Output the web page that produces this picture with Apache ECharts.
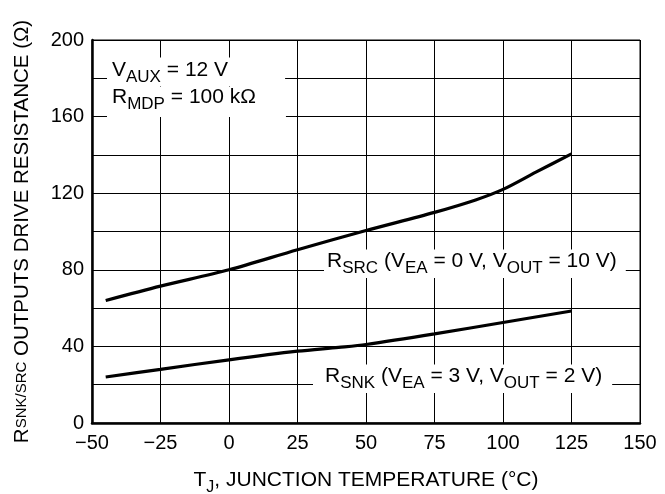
<!DOCTYPE html>
<html><head><meta charset="utf-8">
<script src="https://cdn.jsdelivr.net/npm/echarts@6/dist/echarts.min.js"></script>
<style>html,body{margin:0;padding:0;background:#fff}#c{width:665px;height:494px}</style>
</head><body><div id="c"></div>
<script>
// Data
const srcTemp = [-45, -25, 0, 25, 50, 75, 90, 100, 112, 125];
const srcRes  = [64, 71.5, 80, 90.5, 100.5, 110, 116.5, 122, 131, 140.5];
const snkTemp = [-45, -25, 0, 25, 40, 50, 75, 100, 125];
const snkRes  = [24, 28, 33, 37.5, 39.5, 41, 46.5, 52.5, 58.5];
const xTicks = [-50, -25, 0, 25, 50, 75, 100, 125, 150];
const yTicks = [0, 40, 80, 120, 160, 200];

const FF = '"Liberation Sans", Arial, Helvetica, sans-serif';
const rich = {
  n: {fontFamily: FF, fontSize: 21, fontWeight: 'normal', color: '#000', lineHeight: 32},
  s: {fontFamily: FF, fontSize: 17, fontWeight: 'normal', color: '#000', verticalAlign: 'bottom'}
};
const ts = {rich: rich, fontFamily: FF, fontWeight: 'normal'};

const chart = echarts.init(document.getElementById('c'), null, {renderer: 'canvas'});
chart.setOption({
  animation: false,
  backgroundColor: '#fff',
  grid: {left: 92, right: 25, top: 40, bottom: 71, show: true, borderColor: '#000', borderWidth: 1,
         containLabel: false, outerBoundsMode: 'none'},
  title: [
    {left: 107, top: 52, padding: [2, 57, 0, 5], backgroundColor: '#fff', z: 7,
     text: '{n|V}{s|AUX}{n| = 12 V}', textStyle: ts},
    {left: 107, top: 81, padding: [0, 30, 4, 5], backgroundColor: '#fff', z: 6,
     text: '{n|R}{s|MDP}{n| = 100 kΩ}', textStyle: ts},
    {left: 324, top: 244, padding: [1, 9, 1, 3], backgroundColor: '#fff', z: 6,
     text: '{n|R}{s|SRC}{n| (V}{s|EA}{n| = 0 V, V}{s|OUT}{n| = 10 V)}', textStyle: ts},
    {left: 313, top: 359, padding: [1, 10, 1, 12], backgroundColor: '#fff', z: 6,
     text: '{n|R}{s|SNK}{n| (V}{s|EA}{n| = 3 V, V}{s|OUT}{n| = 2 V)}', textStyle: ts}
  ],
  xAxis: {
    type: 'value', min: xTicks[0], max: xTicks[xTicks.length - 1], interval: 25,
    axisLine: {show: true, onZero: false, lineStyle: {color: '#000', width: 2.5}},
    axisTick: {show: false},
    splitLine: {show: true, lineStyle: {color: '#000', width: 1}},
    axisLabel: {color: '#000', fontFamily: FF, fontSize: 20, margin: 10,
      formatter: v => xTicks.includes(v) ? String(v).replace('-', '\u2212') : ''},
    name: '{n|T}{s|J}{n|, JUNCTION TEMPERATURE (°C)}',
    nameLocation: 'middle', nameGap: 41,
    nameTextStyle: {rich: {
      n: {fontFamily: FF, fontSize: 21, color: '#000', lineHeight: 32},
      s: {fontFamily: FF, fontSize: 16, color: '#000', verticalAlign: 'bottom'}
    }}
  },
  yAxis: {
    type: 'value', min: 0, max: 200, interval: 20,
    axisLine: {show: true, onZero: false, lineStyle: {color: '#000', width: 2.5}},
    axisTick: {show: false},
    splitLine: {show: true, lineStyle: {color: '#000', width: 1}},
    axisLabel: {color: '#000', fontFamily: FF, fontSize: 20, margin: 8,
      formatter: v => yTicks.includes(v) ? String(v) : ''},
    name: '{n|R}{s|SNK/SRC}{n| OUTPUTS DRIVE RESISTANCE (Ω)}',
    nameLocation: 'middle', nameGap: 58, nameRotate: 90,
    nameTextStyle: {rich: {
      n: {fontFamily: FF, fontSize: 20.5, color: '#000', lineHeight: 24},
      s: {fontFamily: FF, fontSize: 15, color: '#000', lineHeight: 17, verticalAlign: 'middle'}
    }}
  },
  series: [
    {type: 'line', z: 10, data: srcTemp.map((t, i) => [t, srcRes[i]]), smooth: 0.3,
     showSymbol: false, lineStyle: {color: '#000', width: 3.2}},
    {type: 'line', z: 10, data: snkTemp.map((t, i) => [t, snkRes[i]]), smooth: 0.3,
     showSymbol: false, lineStyle: {color: '#000', width: 3.2}}
  ]
});
</script></body></html>
